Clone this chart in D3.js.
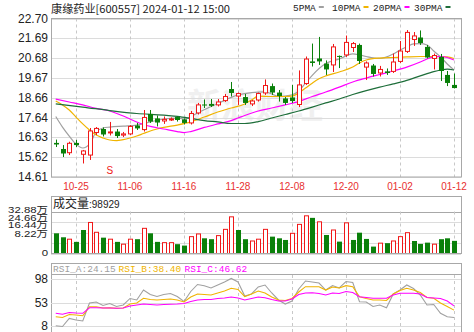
<!DOCTYPE html>
<html>
<head>
<meta charset="utf-8">
<script src="https://cdn.jsdelivr.net/npm/d3@7/dist/d3.min.js"></script>
<style>
  body { margin: 0; background: #fff; }
  svg { display: block; }
</style>
</head>
<body>
<div id="chart"></div>
<script>
// ---- data ----
var dates = ["10-20","10-23","10-24","10-25","10-26","10-27","10-30","10-31","11-01","11-02",
             "11-03","11-06","11-07","11-08","11-09","11-10","11-13","11-14","11-15","11-16",
             "11-17","11-20","11-21","11-22","11-23","11-24","11-27","11-28","11-29","11-30",
             "12-01","12-04","12-05","12-06","12-07","12-08","12-11","12-12","12-13","12-14",
             "12-15","12-18","12-19","12-20","12-21","12-22","12-25","12-26","12-27","12-28",
             "12-29","01-02","01-03","01-04","01-05","01-08","01-09","01-10","01-11","01-12"];

var openP  = [16.35,16.04,15.85,16.35,15.77,15.73,16.88,17.06,16.86,16.93,
              16.75,16.81,17.24,17.03,17.83,17.60,17.47,17.55,17.67,17.55,
              17.37,17.88,18.31,18.34,18.29,18.51,19.10,18.74,18.69,18.34,
              18.54,18.90,19.25,18.92,18.62,18.67,18.31,19.38,20.51,20.66,
              20.40,20.33,20.79,20.84,21.22,21.35,20.22,20.30,19.92,20.00,
              20.00,20.51,21.02,21.63,21.73,21.25,20.66,20.74,19.82,19.31];
var closeP = [16.27,15.81,16.33,16.24,15.94,16.96,17.09,16.78,16.91,16.70,
              16.81,17.19,17.09,17.65,17.44,17.39,17.55,17.57,17.52,17.37,
              17.85,18.29,18.26,18.24,18.44,18.72,18.90,18.87,18.39,18.49,
              18.87,19.28,18.92,18.74,18.39,18.49,19.31,20.63,20.43,20.51,
              20.10,21.25,20.74,21.48,21.42,20.53,20.43,19.87,20.10,19.92,
              20.48,21.04,21.99,21.81,21.45,20.71,20.81,20.02,19.41,19.15];
var highP  = [16.52,16.24,16.41,16.50,15.99,17.11,17.16,17.14,17.42,17.06,
              16.91,17.26,17.37,18.03,18.03,17.75,17.70,17.65,17.70,17.60,
              17.98,18.39,18.57,18.59,18.59,18.85,19.46,18.92,18.85,18.54,
              18.92,19.59,19.38,19.05,18.69,19.31,20.05,20.76,21.42,21.76,
              20.56,21.40,20.81,21.83,21.50,21.42,20.51,20.38,20.28,20.15,
              20.91,21.55,22.11,22.01,22.09,21.35,20.91,20.89,20.02,19.89];
var lowP   = [16.14,15.63,15.73,16.14,15.30,15.48,16.75,16.68,16.73,16.60,
              16.65,16.75,17.01,16.93,17.37,17.19,17.32,17.47,17.44,17.29,
              17.29,17.80,18.13,18.18,18.21,18.44,18.72,18.29,18.29,18.23,
              18.46,18.80,18.80,18.46,18.29,18.39,18.18,19.31,20.25,20.33,
              19.82,19.97,20.17,20.74,20.99,20.38,19.56,19.74,19.74,19.82,
              19.92,20.43,20.94,21.30,21.35,20.66,20.10,19.51,19.25,19.13];
var closeBefore = 16.45;   // close of the day before the first bar

var volume = [158000,127000,112000,91000,184000,243000,166000,124000,112000,91000,
              73000,112000,112000,197000,158000,91000,85000,85000,73000,62000,
              132000,153000,119000,112000,140000,189000,287000,184000,112000,98000,
              112000,189000,132000,119000,106000,158000,228000,295000,279000,248000,
              145000,184000,93000,240000,106000,163000,114000,54000,81000,81000,
              98000,132000,163000,98000,75000,85000,73000,112000,119000,98929];

// moving averages: [bar index, price]
var ma5 = [[0,17.70],[1,17.16],[2,16.70],[3,16.29],[4,16.09],[5,16.29],[6,16.91],[7,17.11],[8,17.16],
           [10,17.21],[12,17.26],[14,17.42],[16,17.57],[18,17.62],[19,17.57],[21,17.88],[24,18.36],
           [27,18.80],[29,18.92],[31,18.95],[32,18.85],[33,18.72],[34,18.74],[35,18.80],[36,19.00],
           [37,19.40],[38,19.80],[40,20.40],[42,20.63],[44,20.89],[45,20.84],[46,20.76],[48,20.66],
           [50,20.89],[51,21.09],[52,21.25],[53,21.40],[54,21.42],[55,21.35],[56,21.04],[57,20.74],
           [58,20.38],[59,20.07]];
var ma10 = [[0,18.49],[1,18.29],[2,18.03],[3,17.67],[4,17.32],[5,17.01],[6,16.75],[7,16.60],[8,16.50],
            [9,16.47],[10,16.52],[11,16.60],[12,16.70],[13,16.83],[14,16.96],[15,17.06],[16,17.14],
            [18,17.26],[20,17.42],[22,17.67],[24,17.93],[26,18.13],[28,18.34],[29,18.54],[30,18.74],
            [32,18.72],[34,18.72],[35,18.74],[36,18.90],[37,19.15],[38,19.40],[39,19.62],[40,19.77],
            [42,19.97],[44,20.22],[45,20.43],[46,20.58],[48,20.68],[50,20.71],[52,20.74],[54,20.76],
            [56,20.76],[58,20.74],[59,20.66]];
var ma20 = [[0,18.59],[2,18.44],[4,18.29],[6,18.11],[8,17.98],[10,17.72],[11,17.57],[12,17.42],
            [13,17.29],[14,17.19],[16,17.06],[18,16.93],[19,16.88],[20,16.93],[22,17.14],[24,17.32],
            [26,17.49],[27,17.62],[28,17.75],[30,17.98],[32,18.13],[34,18.29],[36,18.46],[38,18.72],
            [40,18.95],[42,19.20],[44,19.46],[46,19.66],[48,19.84],[50,20.02],[52,20.22],[54,20.48],
            [55,20.63],[56,20.74],[57,20.76],[58,20.71],[59,20.58]];
var ma30 = [[0,18.34],[4,18.18],[8,18.00],[12,17.85],[16,17.77],[18,17.70],[20,17.60],[22,17.49],
            [24,17.42],[26,17.34],[28,17.34],[30,17.44],[32,17.62],[34,17.80],[36,17.98],[38,18.18],
            [40,18.39],[42,18.59],[44,18.82],[46,19.02],[48,19.20],[50,19.36],[52,19.54],[54,19.77],
            [56,19.99],[57,20.07],[58,20.12],[59,20.07]];

var rsiA = [8.6,7.0,22.4,19.5,17.6,52.0,54.0,47.3,51.1,45.3,48.2,60.7,57.8,76.9,68.3,64.5,68.3,70.2,64.5,54.9,
            74.1,87.5,85.2,80.8,86.5,92.3,99.0,92.3,65.5,69.3,82.7,86.5,71.2,57.8,50.1,55.9,78.9,94.2,92.3,90.3,
            76.9,85.5,80.8,93.2,91.3,54.5,54.0,45.3,48.2,43.0,69.3,76.9,86.5,79.8,67.4,48.2,49.2,32.3,25.8,24.15];
var rsiB = [25.8,24.3,30.0,29.1,27.7,45.0,45.0,42.5,43.0,41.9,42.5,50.1,52.0,61.0,58.7,57.8,58.7,59.7,57.8,54.0,
            63.5,69.3,68.3,67.4,71.2,75.0,80.2,77.9,64.1,69.3,75.0,71.2,63.5,57.8,56.8,60.7,73.1,83.3,83.3,83.3,
            76.9,82.7,80.8,85.2,83.3,64.1,60.7,57.8,57.8,56.8,69.3,76.0,80.2,76.9,72.2,62.6,61.0,52.0,45.3,38.40];
var rsiC = [32.3,30.4,33.9,32.9,32.3,43.0,43.0,42.5,42.5,41.9,42.5,46.3,48.2,50.1,49.2,48.2,49.2,49.6,50.1,51.1,
            54.9,57.8,58.7,58.7,60.7,61.6,63.5,61.6,57.8,60.7,63.5,62.2,58.7,55.9,55.9,59.7,68.3,71.2,71.8,70.2,
            67.4,71.2,70.2,74.1,72.2,64.1,62.6,61.0,61.0,61.0,67.4,70.6,70.6,70.6,69.3,62.6,61.6,60.7,55.9,46.62];

var priceTicks = ["22.70","21.69","20.68","19.67","18.66","17.64","16.63","15.62","14.61"];
var volTicks = [328800, 246600, 164400, 82200, 0];
var volTickLabels = ["32.88万","24.66万","16.44万","8.22万","0"];
var rsiTicks = [98, 53, 8];
var dateTicks = ["10-25","11-06","11-16","11-28","12-08","12-20","01-02","01-12"];
var maNames = ["5PMA","10PMA","20PMA","30PMA"];
var maColors = ["#a0a0a0","#f0b400","#ff00ff","#1e6e3a"];
var rsiNames = ["RSI_A","RSI_B","RSI_C"];
var rsiColors = ["#a0a0a0","#f0b400","#ff00ff"];

var upColor = "#f01818", downColor = "#0a800a";

var width = 474, height = 332;
var left = 51, right = 461;

var svg = d3.select("#chart").append("svg")
    .attr("width", width).attr("height", height)
    .style("font-family", "'Liberation Sans', 'Noto Sans CJK SC', sans-serif");

var n = dates.length;
var x = d3.scaleLinear().domain([0, n - 1]).range([55.75, 454]);
var y = d3.scaleLinear().domain([14.61, 22.70]).range([177, 18.5]);
var yv = d3.scaleLinear().domain([0, 328800]).range([253.5, 211.5]);
var yr = d3.scaleLinear().domain([8, 98]).range([326, 279]);

var gridX = dateTicks.map(function(d) { return x(dates.indexOf(d)); });

function vgrid(y0, y1) {
    svg.append("g").selectAll("line").data(gridX).enter().append("line")
        .attr("x1", function(d) { return Math.round(d) + 0.5; })
        .attr("x2", function(d) { return Math.round(d) + 0.5; })
        .attr("y1", y0).attr("y2", y1)
        .attr("stroke", "#c8c8c8").attr("stroke-dasharray", "3,3");
}

// watermark
svg.append("text")
    .attr("x", 255).attr("y", 118)
    .attr("text-anchor", "middle")
    .style("font-family", "'Noto Sans CJK SC'")
    .style("font-size", "34px").style("font-weight", "700")
    .attr("fill", "#f0f0f0")
    .text("新浪财经");

// ---------- price panel ----------
svg.append("g").selectAll("line").data(priceTicks).enter().append("line")
    .attr("x1", left).attr("x2", right)
    .attr("y1", function(d) { return Math.round(y(+d)) + 0.5; })
    .attr("y2", function(d) { return Math.round(y(+d)) + 0.5; })
    .attr("stroke", "#dcdcdc");
vgrid(18.5, 177);

svg.append("g").selectAll("text").data(priceTicks).enter().append("text")
    .attr("x", 48).attr("y", function(d) { return y(+d) + 4; })
    .attr("text-anchor", "end")
    .style("font-size", "12px").attr("fill", "#222")
    .text(function(d) { return d; });

svg.append("g").selectAll("text").data(dateTicks).enter().append("text")
    .attr("x", function(d) { return x(dates.indexOf(d)); })
    .attr("y", 190)
    .attr("text-anchor", "middle")
    .style("font-size", "10px").attr("fill", "#e83030")
    .text(function(d) { return d; });

// moving averages
var maList = [ma5, ma10, ma20, ma30];
var maLine = d3.line()
    .x(function(d) { return x(d[0]); })
    .y(function(d) { return y(d[1]); })
    .curve(d3.curveMonotoneX);
maList.forEach(function(m, k) {
    svg.append("path").datum(m)
        .attr("d", maLine)
        .attr("fill", "none")
        .attr("stroke", maColors[k])
        .attr("stroke-width", 1.2);
});

// candles
var bars = d3.range(n).map(function(i) {
    return { i: i, o: openP[i], c: closeP[i], h: highP[i], l: lowP[i] };
});
var candle = svg.append("g").selectAll("g").data(bars).enter().append("g");
candle.append("line")
    .attr("x1", function(d) { return Math.round(x(d.i)) + 0.5; })
    .attr("x2", function(d) { return Math.round(x(d.i)) + 0.5; })
    .attr("y1", function(d) { return y(d.h); })
    .attr("y2", function(d) { return y(d.l); })
    .attr("stroke", function(d) { return d.c >= d.o ? upColor : downColor; });
candle.append("rect")
    .attr("x", function(d) { return Math.round(x(d.i)) - 2 + (d.c >= d.o ? 0.5 : 0); })
    .attr("y", function(d) { return y(Math.max(d.o, d.c)); })
    .attr("width", function(d) { return d.c >= d.o ? 4 : 5; })
    .attr("height", function(d) { return Math.max(1, y(Math.min(d.o, d.c)) - y(Math.max(d.o, d.c))); })
    .attr("fill", function(d) { return d.c >= d.o ? "#fff" : downColor; })
    .attr("stroke", function(d) { return d.c >= d.o ? upColor : "none"; });

// "S" marker under 11-01
svg.append("text")
    .attr("x", x(dates.indexOf("11-01"))).attr("y", 174)
    .attr("text-anchor", "middle")
    .style("font-size", "10px").attr("fill", upColor)
    .text("S");

svg.append("rect")
    .attr("x", left + 0.5).attr("y", 18.5)
    .attr("width", right - left).attr("height", 158.5)
    .attr("fill", "none").attr("stroke", "#a8a8a8");

// title + legend
svg.append("text")
    .attr("x", 51).attr("y", 12.5)
    .style("font-family", "'Noto Sans CJK SC'")
    .style("font-size", "11px").attr("fill", "#222")
    .attr("textLength", 179).attr("lengthAdjust", "spacingAndGlyphs")
    .text("康缘药业[600557] 2024-01-12 15:00");

var legX = [293, 332, 373, 414];
var leg = svg.append("g").selectAll("g").data(maNames).enter().append("g")
    .attr("transform", function(d, i) { return "translate(" + legX[i] + ",0)"; });
leg.append("text")
    .attr("y", 11)
    .style("font-family", "'Liberation Mono'")
    .style("font-size", "9.5px").attr("fill", "#222")
    .text(function(d) { return d; });
leg.append("rect")
    .attr("x", function(d) { return d.length * 5.7 + 3; })
    .attr("y", 6).attr("width", 5).attr("height", 2)
    .attr("fill", function(d, i) { return maColors[i]; });

// ---------- volume panel ----------
svg.append("rect")
    .attr("x", left + 0.5).attr("y", 196.5)
    .attr("width", right - left).attr("height", 57)
    .attr("fill", "#fff").attr("stroke", "#a8a8a8");
svg.append("g").selectAll("line").data(volTicks).enter().append("line")
    .attr("x1", left).attr("x2", right)
    .attr("y1", function(d) { return Math.round(yv(d)) + 0.5; })
    .attr("y2", function(d) { return Math.round(yv(d)) + 0.5; })
    .attr("stroke", function(d, i) { return i == 0 ? "#a8a8a8" : "#dcdcdc"; });
vgrid(211.5, 253.5);

// the labels sit packed together at the top of the panel, as in the source
var volLabelY = [213.3, 220.8, 228.3, 236.7, 256];
svg.append("g").selectAll("g").data(volTicks).enter().append("g")
    .attr("transform", function(d, i) { return "translate(48," + volLabelY[i] + ") scale(1.2,1)"; })
  .append("text")
    .attr("text-anchor", "end")
    .style("font-size", "9.5px").attr("fill", "#222")
    .text(function(d, i) { return volTickLabels[i]; });

svg.append("text")
    .attr("x", 53).attr("y", 208)
    .style("font-family", "'Noto Sans CJK SC'")
    .style("font-size", "12px").attr("fill", "#222")
    .text("成交量")
  .append("tspan")
    .style("font-family", "'Liberation Sans'")
    .style("font-size", "10px")
    .text(":" + volume[n - 1]);

function volUp(i) { return closeP[i] >= (i ? closeP[i - 1] : closeBefore); }

svg.append("g").selectAll("rect").data(volume).enter().append("rect")
    .attr("x", function(d, i) { return Math.round(x(i)) - 2 + (volUp(i) ? 0.5 : 0); })
    .attr("y", function(d) { return yv(d); })
    .attr("width", function(d, i) { return volUp(i) ? 4 : 5; })
    .attr("height", function(d) { return yv(0) - yv(d); })
    .attr("fill", function(d, i) { return volUp(i) ? "#fff" : downColor; })
    .attr("stroke", function(d, i) { return volUp(i) ? upColor : "none"; });

svg.append("rect")
    .attr("x", left + 0.5).attr("y", 196.5)
    .attr("width", right - left).attr("height", 57)
    .attr("fill", "none").attr("stroke", "#a8a8a8");

// ---------- RSI panel ----------
svg.append("defs").append("clipPath").attr("id", "rsiClip")
    .append("rect").attr("x", left).attr("y", 274).attr("width", right - left).attr("height", 58);

svg.append("rect")
    .attr("x", left + 0.5).attr("y", 263.5)
    .attr("width", right - left).attr("height", 70)
    .attr("fill", "#fff").attr("stroke", "#a8a8a8");
svg.append("line")
    .attr("x1", left).attr("x2", right).attr("y1", 274.5).attr("y2", 274.5)
    .attr("stroke", "#a8a8a8");
svg.append("g").selectAll("line").data(rsiTicks).enter().append("line")
    .attr("x1", left).attr("x2", right)
    .attr("y1", function(d) { return Math.round(yr(d)) + 0.5; })
    .attr("y2", function(d) { return Math.round(yr(d)) + 0.5; })
    .attr("stroke", "#dcdcdc");
vgrid(275, 332);

svg.append("g").selectAll("text").data(rsiTicks).enter().append("text")
    .attr("x", 48).attr("y", function(d) { return yr(d) + 4; })
    .attr("text-anchor", "end")
    .style("font-size", "12px").attr("fill", "#222")
    .text(function(d) { return d; });

var rsiList = [rsiA, rsiB, rsiC];
var rsiLine = d3.line()
    .x(function(d, i) { return x(i); })
    .y(function(d) { return yr(d); });
var rsiG = svg.append("g").attr("clip-path", "url(#rsiClip)");
rsiList.forEach(function(r, k) {
    rsiG.append("path").datum(r)
        .attr("d", rsiLine)
        .attr("fill", "none")
        .attr("stroke", rsiColors[k])
        .attr("stroke-width", 1.1);
});

var rsiHeadX = [53, 118.5, 184.5];
svg.append("g").selectAll("text").data(rsiNames).enter().append("text")
    .attr("x", function(d, i) { return rsiHeadX[i]; })
    .attr("y", 272)
    .style("font-family", "'Liberation Mono'")
    .style("font-size", "9.5px")
    .attr("fill", function(d, i) { return rsiColors[i]; })
    .text(function(d, i) { return d + ":" + rsiList[i][n - 1].toFixed(2); });
</script>
</body>
</html>
